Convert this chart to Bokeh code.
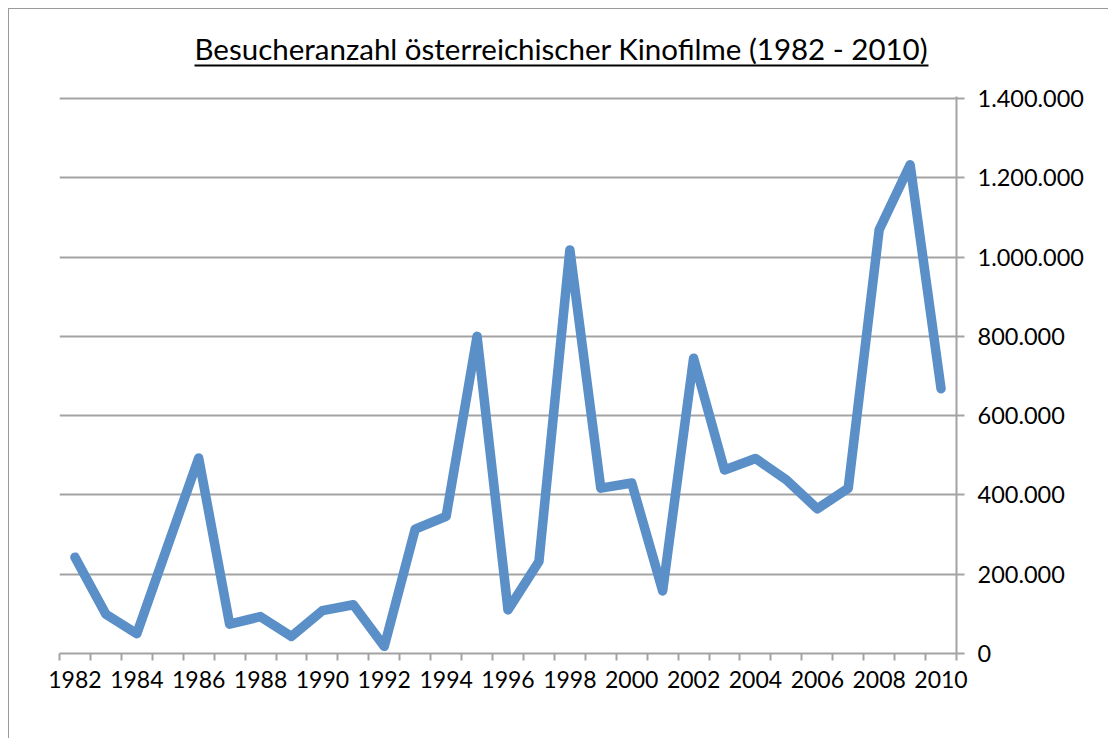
from bokeh.plotting import figure
from bokeh.models import Range1d, FixedTicker, Title, LinearAxis
from bokeh.embed import file_html
from bokeh.resources import INLINE

title_text = "Besucheranzahl österreichischer Kinofilme (1982 - 2010)"
years = list(range(1982, 2011))
visitors = [243000, 99000, 50000, 272000, 493000, 74000, 93000, 43000,
            108000, 123000, 18000, 314000, 346000, 800000, 110000, 232000,
            1018000, 417000, 430000, 158000, 745000, 463000, 492000, 438000,
            365000, 417000, 1069000, 1233000, 668000]
label_years = years[::2]
y_ticks = [0, 200000, 400000, 600000, 800000, 1000000, 1200000, 1400000]
y_tick_labels = ["0", "200.000", "400.000", "600.000", "800.000",
                 "1.000.000", "1.200.000", "1.400.000"]

FONT = "Lato"
GREY = "#a3a3a3"

p = figure(width=1100, height=730, output_backend="svg", toolbar_location=None,
           x_range=Range1d(years[0] - 0.5, years[-1] + 0.5),
           y_range=Range1d(y_ticks[0], y_ticks[-1] * 1.0036),
           y_axis_location="right",
           min_border_left=50, min_border_right=153,
           min_border_top=87, min_border_bottom=86)
p.styles = {"margin-left": "8px", "margin-top": "8px",
            "border-left": "1px solid #9a9a9a", "border-top": "1px solid #9a9a9a"}
p.outline_line_color = None
p.background_fill_color = "white"
p.border_fill_color = "white"

p.line(years, visitors, line_color="#5b8fc8", line_width=9.5,
       line_join="round", line_cap="round")

# x axis
xa = p.xaxis[0]
boundaries = [y - 0.5 for y in years] + [years[-1] + 0.5]
xa.ticker = FixedTicker(ticks=label_years, minor_ticks=boundaries)
xa.axis_line_color = GREY
xa.axis_line_width = 2
xa.major_tick_line_color = None
xa.major_tick_out = 7
xa.major_tick_in = 0
xa.minor_tick_line_color = GREY
xa.minor_tick_line_width = 2
xa.minor_tick_out = 7
xa.minor_tick_in = 0
xa.major_label_standoff = 10
xa.major_label_text_font = FONT
xa.major_label_text_font_size = "23px"
xa.major_label_text_color = "black"

# y axis
ya = p.yaxis[0]
ya.ticker = FixedTicker(ticks=y_ticks)
ya.major_label_overrides = {t: s for t, s in zip(y_ticks, y_tick_labels)}
ya.axis_line_color = GREY
ya.axis_line_width = 2
ya.major_tick_line_color = GREY
ya.major_tick_line_width = 2
ya.major_tick_out = 8
ya.major_tick_in = 0
ya.minor_tick_line_color = None
ya.major_label_standoff = 13
ya.major_label_text_font = FONT
ya.major_label_text_font_size = "23.5px"
ya.major_label_text_color = "black"

p.xgrid.grid_line_color = None
p.ygrid.ticker = FixedTicker(ticks=y_ticks)
p.ygrid.grid_line_color = GREY
p.ygrid.grid_line_width = 2

# invisible spacer between plot area and title underline
mid = label_years[len(label_years) // 2]
spacer = LinearAxis(ticker=FixedTicker(ticks=[mid]), axis_line_color=None,
                    major_tick_out=31, major_tick_in=0, major_label_standoff=0,
                    major_tick_line_color=None, minor_tick_line_color=None,
                    major_label_overrides={mid: ""},
                    major_label_text_font_size="1px")
p.add_layout(spacer, "above")
# title underline
underline = LinearAxis(ticker=FixedTicker(ticks=[]), axis_line_color="black",
                       axis_line_width=2, bounds=(1985.85, 2009.6),
                       major_tick_out=0, major_tick_in=0, major_label_standoff=0,
                       major_tick_line_color=None, minor_tick_line_color=None,
                       major_label_text_font_size="0px")
p.add_layout(underline, "above")
p.add_layout(Title(text=title_text, align="left", offset=135, standoff=0,
                   text_font=FONT, text_font_size="29.5px",
                   text_font_style="normal", text_color="black"), "above")

open("out.html", "w").write(file_html(p, INLINE))
